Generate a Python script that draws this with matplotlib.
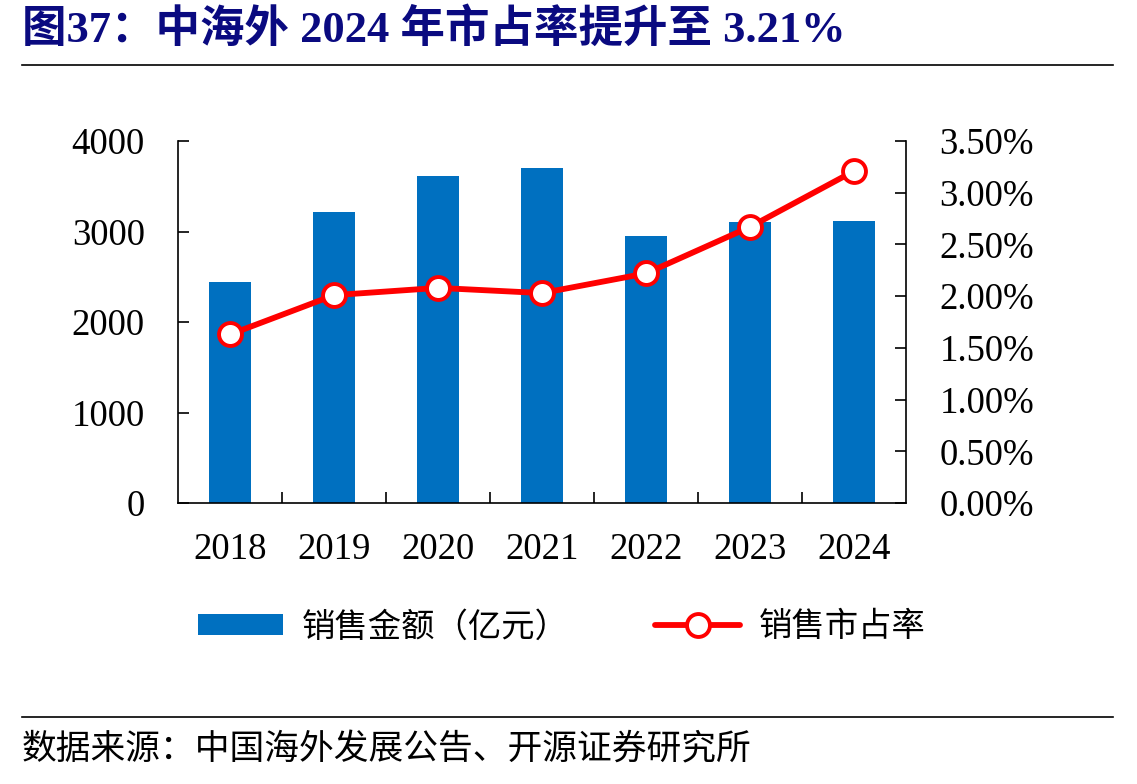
"""中海外 2024 年市占率 chart: sales amount bars + market-share line (twin axis)."""
import matplotlib

matplotlib.use("Agg")
import matplotlib.pyplot as plt
from matplotlib.ticker import FuncFormatter, FixedLocator

plt.rcParams["font.family"] = ["Liberation Serif", "Noto Sans CJK SC", "DejaVu Sans"]

# --- data --------------------------------------------------------------------
YEARS = ["2018", "2019", "2020", "2021", "2022", "2023", "2024"]
SALES = [2442, 3215, 3613, 3702, 2950, 3105, 3116]          # 亿元
SHARE = [1.63, 2.01, 2.08, 2.03, 2.22, 2.67, 3.21]          # %

TITLE = "图37：中海外 2024 年市占率提升至 3.21%"
SOURCE = "数据来源：中国海外发展公告、开源证券研究所"
BAR_LABEL = "销售金额（亿元）"
LINE_LABEL = "销售市占率"

BAR_COLOR = "#0070C0"
LINE_COLOR = "#FF0000"
TITLE_COLOR = "#0A0A80"
CJK = ["Noto Sans CJK SC", "DejaVu Sans"]
TICK_SIZE = 26.5

fig = plt.figure(figsize=(11.37, 7.84), dpi=100)
ax = fig.add_axes([0.1566, 0.3584, 0.6403, 0.4617])
ax2 = ax.twinx()

x = list(range(len(YEARS)))
bars = ax.bar(x, SALES, width=0.4, color=BAR_COLOR, label=BAR_LABEL, zorder=2)
(line,) = ax2.plot(x, SHARE, color=LINE_COLOR, lw=4.2, marker="o", ms=16.5,
                   mfc="white", mec=LINE_COLOR, mew=2.8, label=LINE_LABEL,
                   solid_capstyle="round")

ax.set_xlim(-0.5, len(YEARS) - 0.5)
ax.set_ylim(0, 4000)
ax.set_yticks([0, 1000, 2000, 3000, 4000])
ax2.set_ylim(0, 3.5)
ax2.set_yticks([0, 0.5, 1.0, 1.5, 2.0, 2.5, 3.0, 3.5])
ax2.yaxis.set_major_formatter(FuncFormatter(lambda v, _: f"{v:.2f}%"))

ax.set_xticks(x)
ax.set_xticklabels(YEARS)
ax.xaxis.set_minor_locator(FixedLocator([i + 0.5 for i in range(len(YEARS) - 1)]))
ax.tick_params(axis="x", which="major", length=0, pad=21, labelsize=TICK_SIZE)
ax.tick_params(axis="x", which="minor", direction="in", length=8, width=1.2)
ax.tick_params(axis="y", direction="in", length=8, width=1.2, pad=24, labelsize=TICK_SIZE)
ax2.tick_params(axis="y", direction="in", length=8, width=1.2, pad=24, labelsize=TICK_SIZE)

for a in (ax, ax2):
    a.spines["top"].set_visible(False)
    for s in a.spines.values():
        s.set_linewidth(1.2)
ax.spines["right"].set_visible(False)
ax2.spines["left"].set_visible(False)
ax2.spines["bottom"].set_visible(False)

fig.legend([bars, line], [BAR_LABEL, LINE_LABEL], loc="center",
           bbox_to_anchor=(0.494, 0.2003), ncol=2, frameon=False,
           prop={"family": CJK, "size": 24}, handlelength=2.55,
           handleheight=0.6, handletextpad=0.55, columnspacing=2.6)

# header / footer
fig.text(0.0193, 0.962, TITLE, ha="left", va="center", fontsize=32,
         fontweight="bold", color=TITLE_COLOR,
         family=["Liberation Serif", "Noto Sans CJK SC"])
fig.add_artist(plt.Line2D([0.0193, 0.979], [0.917, 0.917], color="black", lw=1.2))
fig.add_artist(plt.Line2D([0.0193, 0.979], [0.0855, 0.0855], color="black", lw=1.2))
fig.text(0.0193, 0.0434, SOURCE, ha="left", va="center", fontsize=25, family=CJK)

fig.savefig("out.png", dpi=100)
